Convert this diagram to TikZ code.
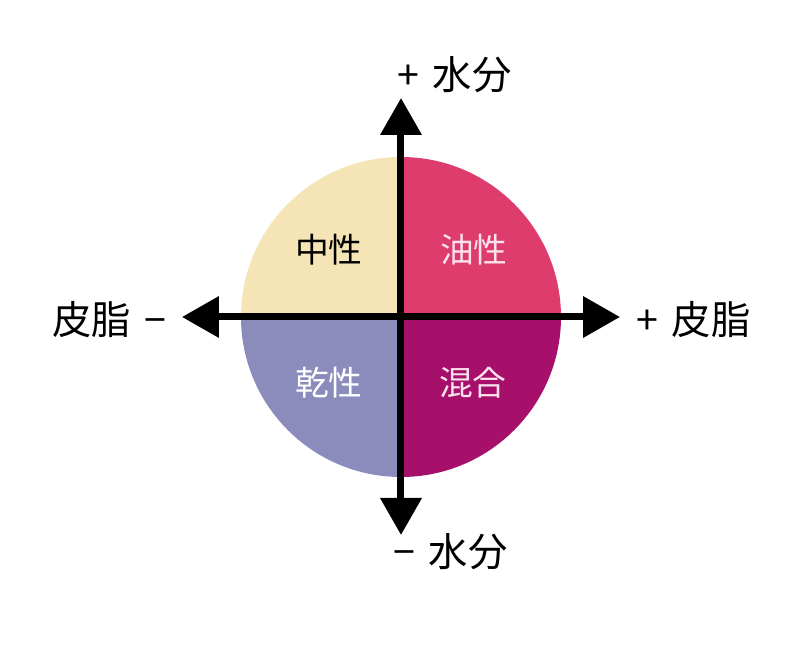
\documentclass[tikz,border=0pt]{standalone}
\usepackage{fontspec}
\setmainfont{Noto Sans CJK JP}
\usetikzlibrary{arrows.meta}
\definecolor{normalcream}{RGB}{245,228,182}
\definecolor{oilypink}{RGB}{221,60,108}
\definecolor{drylavender}{RGB}{140,140,188}
\definecolor{mixmagenta}{RGB}{166,16,106}
\definecolor{paletext}{RGB}{252,225,238}

\begin{document}
\begin{tikzpicture}[
  axis/.style={{Triangle[length=0.925cm, width=1cm]}-{Triangle[length=0.925cm, width=1cm]}, line width=0.175cm},
  typelabel/.style={font=\fontsize{24}{26}\selectfont, inner sep=0pt},
  axislabel/.style={font=\fontsize{28}{30}\selectfont, inner sep=0pt}]

  \useasboundingbox (-10.025, -8.625) rectangle (9.975, 7.925);

  \coordinate (center) at (0, 0);
  \fill[normalcream] (center) -- (0, 4) arc (90:180:4) -- cycle;
  \fill[oilypink] (center) -- (4, 0) arc (0:90:4) -- cycle;
  \fill[drylavender] (center) -- (-4, 0) arc (180:270:4) -- cycle;
  \fill[mixmagenta] (center) -- (0, -4) arc (270:360:4) -- cycle;

  \node[typelabel, text=black] (normal) at (-1.8, 1.675) {中性};
  \node[typelabel, text=paletext] (oily) at (1.825, 1.675) {油性};
  \node[typelabel, text=white] (dry) at (-1.8, -1.65) {乾性};
  \node[typelabel, text=paletext] (mixed) at (1.8, -1.65) {混合};

  \coordinate (top) at (0, 5.475);
  \coordinate (bottom) at (0, -5.45);
  \coordinate (left) at (-5.475, 0);
  \coordinate (right) at (5.475, 0);

  \draw[axis] (bottom) -- (top);
  \draw[axis] (left) -- (right);

  \node[axislabel, anchor=west] (waterplus) at (-0.1, 6.05) {+\hspace{0.35em}水分};
  \node[axislabel, anchor=west] (waterminus) at (-0.2, -5.875) {−\hspace{0.35em}水分};
  \node[axislabel, anchor=east] (sebumminus) at (-5.85, -0.075) {皮脂\hspace{0.35em}−};
  \node[axislabel, anchor=west] (sebumplus) at (5.875, -0.075) {+\hspace{0.35em}皮脂};
\end{tikzpicture}
\end{document}
